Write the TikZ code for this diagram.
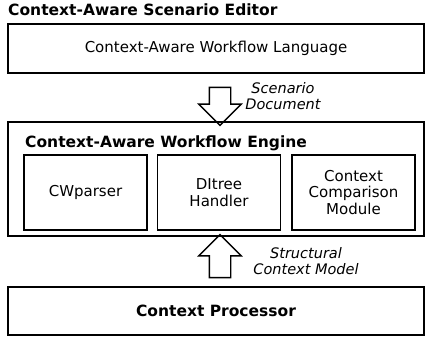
\documentclass[tikz,border=0pt]{standalone}
\usepackage{fontspec}
\setmainfont{DejaVu Sans}
\usetikzlibrary{shapes.arrows}

\begin{document}
\begin{tikzpicture}[
  x=1pt, y=-1pt,
  layer/.style={
    draw, line width=1.2pt, minimum width=416pt, inner sep=0pt
  },
  module/.style={
    draw, line width=1.6pt, minimum width=123pt, minimum height=75pt,
    align=center, font=\fontsize{15}{16.5}\selectfont
  },
  ltitle/.style={
    font=\fontsize{15.5}{17}\selectfont\bfseries, anchor=west, inner sep=0pt
  },
  ltext/.style={
    font=\fontsize{15}{17}\selectfont
  },
  flow/.style={
    single arrow, draw, line width=1.4pt, inner sep=10pt,
    single arrow head extend=10.5pt, single arrow head indent=0pt
  },
  flowlabel/.style={
    font=\fontsize{14.5}{16.5}\selectfont\itshape, align=center
  }
]
\useasboundingbox (0,0) rectangle (427,337);

% Editor layer
\node[ltitle] (editor) at (8,10) {Context-Aware Scenario Editor};
\node[layer, minimum height=49pt] (lang) at (216,48.5) {};
\node[ltext] at (lang.center) {Context-Aware Workflow Language};

% Engine layer
\node[layer, minimum height=114pt] (engine) at (216,179) {};
\node[ltitle] (enginetitle) at (25,143) {Context-Aware Workflow Engine};
\node[module] (parser) at (85.5,192.5) {CWparser};
\node[module] (ditree) at (219,192.5) {DItree\\Handler};
\node[module] (compare) at (353.5,192.5) {Context\\Comparison\\Module};

% Processor layer
\node[layer, minimum height=48pt] (proc) at (216,311) {};
\node[ltitle, anchor=center] at (proc.center) {Context Processor};

% Flows between layers
\node[flow, rotate=-90, minimum height=38pt] (down) at (220,101) {};
\node[flowlabel] at (283,96) {Scenario\\Document};

\node[flow, rotate=90, minimum height=43pt] (up) at (220,261.5) {};
\node[flowlabel] at (306,261) {Structural\\Context Model};

\end{tikzpicture}
\end{document}
